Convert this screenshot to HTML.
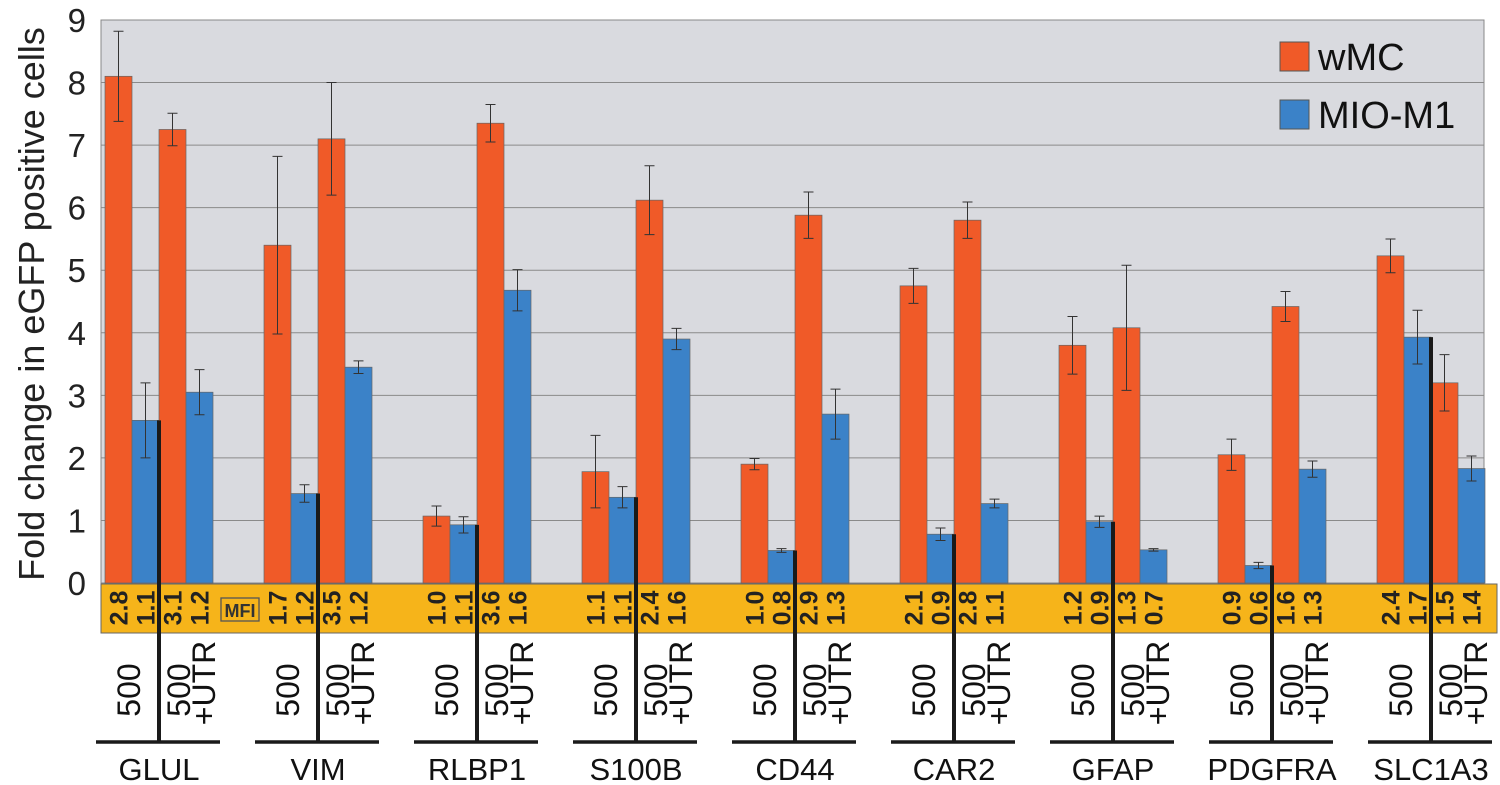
<!DOCTYPE html>
<html><head><meta charset="utf-8"><style>
body{margin:0;background:#fff;}
svg{display:block;font-family:"Liberation Sans",Arial,sans-serif;}
</style></head><body>
<svg id="chart" width="1500" height="785" viewBox="0 0 1500 785" xmlns="http://www.w3.org/2000/svg">
<rect x="101" y="20" width="1383" height="563" fill="#d9dadf" stroke="#888" stroke-width="1"/>
<g id="grid"></g>
<g id="bars"></g>
<rect x="101" y="584" width="1396" height="49" fill="#f6b41a" stroke="#666" stroke-width="1"/>
<rect x="221" y="598" width="38" height="23" fill="none" stroke="#555" stroke-width="1.3"/>
<text x="240" y="617" font-size="18" font-weight="bold" fill="#333" text-anchor="middle">MFI</text>
<g id="mfi"></g>
<g id="xlabels"></g>
<text transform="translate(44,304) rotate(-90)" font-size="36" text-anchor="middle" fill="#222">Fold change in eGFP positive cells</text>
<g>
<rect x="1280" y="42" width="29" height="29" fill="#f05a28" stroke="#555"/>
<text x="1318" y="70" font-size="38" fill="#111">wMC</text>
<rect x="1280" y="100" width="29" height="29" fill="#3b82c8" stroke="#555"/>
<text x="1318" y="128" font-size="38" fill="#111">MIO-M1</text>
</g>
</svg>
<script>
const genes=["GLUL","VIM","RLBP1","S100B","CD44","CAR2","GFAP","PDGFRA","SLC1A3"];
const wmc500=[8.1,5.4,1.07,1.78,1.9,4.75,3.8,2.05,5.23];
const wmc500Err=[0.72,1.42,0.16,0.58,0.09,0.28,0.46,0.25,0.27];
const mio500=[2.6,1.43,0.93,1.37,0.52,0.78,0.98,0.28,3.93];
const mio500Err=[0.6,0.14,0.13,0.17,0.03,0.1,0.09,0.05,0.43];
const wmcUtr=[7.25,7.1,7.35,6.12,5.88,5.8,4.08,4.42,3.2];
const wmcUtrErr=[0.26,0.9,0.3,0.55,0.37,0.29,1.0,0.24,0.45];
const mioUtr=[3.05,3.45,4.68,3.9,2.7,1.27,0.53,1.82,1.83];
const mioUtrErr=[0.36,0.1,0.33,0.17,0.4,0.07,0.02,0.13,0.2];
const mfi=[["2.8","1.1","3.1","1.2"],["1.7","1.2","3.5","1.2"],["1.0","1.1","3.6","1.6"],["1.1","1.1","2.4","1.6"],["1.0","0.8","2.9","1.3"],["2.1","0.9","2.8","1.1"],["1.2","0.9","1.3","0.7"],["0.9","0.6","1.6","1.3"],["2.4","1.7","1.5","1.4"]];
const yTicks=[0,1,2,3,4,5,6,7,8,9];
const NS="http://www.w3.org/2000/svg";
const y0=583,yTop=20,yMax=9;
function y(v){return y0-(v/yMax)*(y0-yTop);}
const gStart=105,pitch=159,bw=27;
function bx(g,i){return gStart+g*pitch+i*bw;}
function mk(tag,attrs,parent,txt){const e=document.createElementNS(NS,tag);for(const k in attrs)e.setAttribute(k,attrs[k]);if(txt!==undefined)e.textContent=txt;parent.appendChild(e);return e;}
const grid=document.getElementById('grid');
yTicks.forEach(t=>{
 if(t>0&&t<9){const l=mk('line',{x1:101,x2:1484,y1:y(t),y2:y(t),stroke:'#8a8a8a','stroke-width':1},grid);
 
 }
 const tx=mk('text',{x:86,y:y(t)+12,'font-size':33,'text-anchor':'end',fill:'#222'},grid,String(t));
 
 
});
const bars=document.getElementById('bars');
const series=[[wmc500,wmc500Err,'#f05a28'],[mio500,mio500Err,'#3b82c8'],[wmcUtr,wmcUtrErr,'#f05a28'],[mioUtr,mioUtrErr,'#3b82c8']];
genes.forEach((g,gi)=>{
 series.forEach((s,si)=>{
  const v=s[0][gi],e=s[1][gi],x=bx(gi,si);
  const r=mk('rect',{x:x,y:y(v),width:bw,height:y0-y(v),fill:s[2],stroke:'#666','stroke-width':0.7},bars);
  
  
  const cx=x+bw/2;
  const eb=mk('path',{d:`M${cx},${y(v+e)}V${y(v-e)}M${cx-5},${y(v+e)}H${cx+5}M${cx-5},${y(v-e)}H${cx+5}`,stroke:'#333','stroke-width':1,fill:'none'},bars);
  
  
 });
});
const mg=document.getElementById('mfi');
const xl=document.getElementById('xlabels');
genes.forEach((g,gi)=>{
 mfi[gi].forEach((m,si)=>{
  const cx=bx(gi,si)+bw/2+9;
  const t=mk('text',{transform:`translate(${cx},608) rotate(-90)`,'font-size':25,'font-weight':'bold','text-anchor':'middle',fill:'#222'},mg,m);
  
  
 });
 const lx=bx(gi,2);
 const ln=mk('line',{x1:lx,x2:lx,y1:y(mio500[gi]),y2:742,stroke:'#1a1a1a','stroke-width':4},xl);
 
 
 const ul=mk('line',{x1:lx-63,x2:lx+61,y1:742,y2:742,stroke:'#1a1a1a','stroke-width':3.5},xl);
 
 
 const a=mk('text',{transform:`translate(${lx-19},690) rotate(-90)`,'font-size':32,'text-anchor':'middle',fill:'#111'},xl,'500');
 
 
 const b=mk('text',{transform:`translate(${lx+31},690) rotate(-90)`,'font-size':32,'text-anchor':'middle',fill:'#111'},xl,'500');
 
 
 const c=mk('text',{transform:`translate(${lx+56},683) rotate(-90)`,'font-size':32,'text-anchor':'middle',fill:'#111'},xl,'+UTR');
 
 
 const gn=mk('text',{x:lx,y:780,'font-size':31,'text-anchor':'middle',fill:'#111'},xl,g);
 
 
});
</script>
</body></html>
